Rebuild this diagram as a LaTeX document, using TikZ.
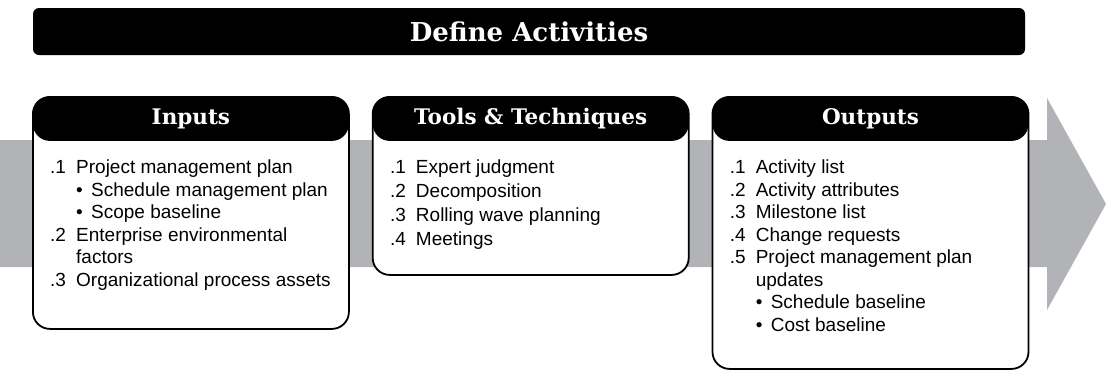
\documentclass[tikz,border=0pt]{standalone}
\usepackage{fontspec}
\setmainfont{Liberation Sans}
\newfontfamily\headfont{DejaVu Serif}
\usetikzlibrary{positioning}
\definecolor{flowgray}{RGB}{177,179,182}
\newcommand{\itm}[2]{\strut\makebox[26pt][l]{#1}#2}
\newcommand{\subitm}[1]{\strut\hspace*{26pt}\makebox[15pt][l]{\textbullet}#1}
\newcommand{\cont}[1]{\strut\hspace*{26pt}#1}
\tikzset{
  title bar/.style={fill=black,rounded corners=6pt,minimum width=992pt,
    minimum height=47pt,inner sep=0pt,text=white,
    font=\headfont\bfseries\fontsize{26}{28}\selectfont},
  group box/.style={draw,line width=1.8pt,fill=white,rounded corners=17pt,
    minimum width=316pt,inner sep=0pt,anchor=north west,
    path picture={\fill[black] (path picture bounding box.north west)
      rectangle ([yshift=-44pt]path picture bounding box.north east);}},
  group title/.style={text=white,inner sep=0pt,
    font=\headfont\bfseries\fontsize{21.5}{24}\selectfont},
  item list/.style={anchor=north west,align=left,inner sep=0pt,
    font=\fontsize{19}{22.5}\selectfont},
}

\begin{document}
\begin{tikzpicture}[x=1pt,y=1pt]
  \useasboundingbox (0,0) rectangle (1106,-370);
  % Flow arrow behind the three groups
  \fill[flowgray] (0,-140) -- (1047,-140) -- (1047,-98) -- (1106,-204)
    -- (1047,-310) -- (1047,-267) -- (0,-267) -- cycle;

  % Process name
  \node[title bar] (title) at (529,-31.5) {Define Activities};

  % Groups
  \node[group box,minimum height=232pt] (inputs) at (32,-96) {};
  \node[group box,minimum height=178pt,right=22pt of inputs.north east,
    anchor=north west] (tools) {};
  \node[group box,minimum height=272pt,right=22pt of tools.north east,
    anchor=north west] (outputs) {};
  \node[group title] at ([yshift=-23pt]inputs.north) {Inputs};
  \node[group title] at ([yshift=-23pt]tools.north) {Tools \& Techniques};
  \node[group title] at ([yshift=-23pt]outputs.north) {Outputs};

  % Item lists
  \node[item list] (inputs list) at ([xshift=18pt,yshift=-62pt]inputs.north west)
    {\itm{.1}{Project management plan}\\
     \subitm{Schedule management plan}\\
     \subitm{Scope baseline}\\
     \itm{.2}{Enterprise environmental}\\
     \cont{factors}\\
     \itm{.3}{Organizational process assets}};
  \node[item list,font=\fontsize{19}{24}\selectfont] (tools list)
    at ([xshift=18pt,yshift=-60pt]tools.north west)
    {\itm{.1}{Expert judgment}\\
     \itm{.2}{Decomposition}\\
     \itm{.3}{Rolling wave planning}\\
     \itm{.4}{Meetings}};
  \node[item list] (outputs list) at ([xshift=18pt,yshift=-62pt]outputs.north west)
    {\itm{.1}{Activity list}\\
     \itm{.2}{Activity attributes}\\
     \itm{.3}{Milestone list}\\
     \itm{.4}{Change requests}\\
     \itm{.5}{Project management plan}\\
     \cont{updates}\\
     \subitm{Schedule baseline}\\
     \subitm{Cost baseline}};
\end{tikzpicture}
\end{document}
